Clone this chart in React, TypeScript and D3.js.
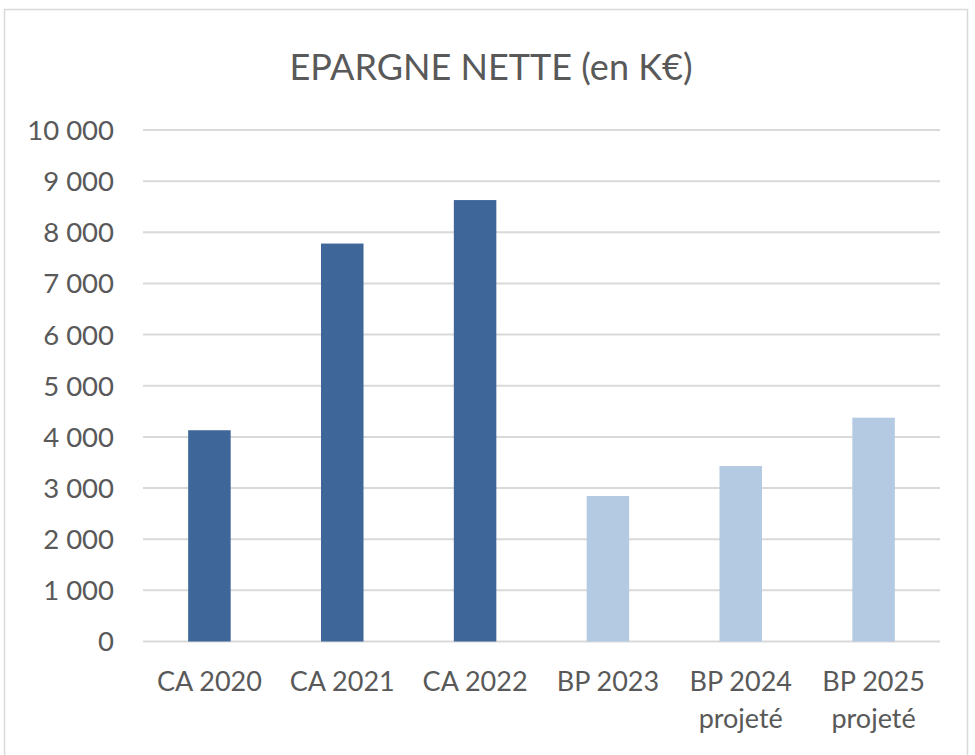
import React from "react";
import * as d3 from "d3";

const categories: string[][] = [
  ["CA 2020"],
  ["CA 2021"],
  ["CA 2022"],
  ["BP 2023"],
  ["BP 2024", "projeté"],
  ["BP 2025", "projeté"],
];
const values: number[] = [4130, 7780, 8630, 2845, 3430, 4375];
const kinds: string[] = ["CA", "CA", "CA", "BP", "BP", "BP"];
const yTicks: number[] = [0, 1000, 2000, 3000, 4000, 5000, 6000, 7000, 8000, 9000, 10000];
const title = "EPARGNE NETTE (en K€)";

const W = 975;
const H = 755;
const FONT = "Lato, 'Open Sans', sans-serif";

export default function App() {
  const x = d3
    .scaleBand<number>()
    .domain(d3.range(categories.length))
    .range([143, 940])
    .paddingInner(0.68)
    .paddingOuter(0.34);
  const y = d3.scaleLinear().domain([0, 10000]).range([641.5, 130]);
  const color = d3.scaleOrdinal<string, string>().domain(["CA", "BP"]).range(["#3e6699", "#b4c9e2"]);
  const fmt = (v: number) => d3.format(",")(v).replace(/,/g, " ");

  return (
    <svg width={W} height={H} style={{ position: "absolute", left: 0, top: 0, background: "#fff" }}>
      <rect x={4.5} y={9.5} width={963} height={760} fill="#fff" stroke="#d9d9d9" strokeWidth={1.5} />
      <text x={491} y={80} textAnchor="middle" fontFamily={FONT} fontSize={36} fill="#595959">
        {title}
      </text>
      {yTicks.map((t) => (
        <g key={t}>
          <line x1={143} x2={940} y1={y(t)} y2={y(t)} stroke="#d9d9d9" strokeWidth={2} />
          <text x={114} y={y(t)} dy="0.36em" textAnchor="end" fontFamily={FONT} fontSize={27.5} fill="#595959">
            {fmt(t)}
          </text>
        </g>
      ))}
      {values.map((v, i) => (
        <rect
          key={i}
          x={x(i)!}
          y={y(v)}
          width={x.bandwidth()}
          height={y(0) - y(v)}
          fill={color(kinds[i])}
        />
      ))}
      {categories.map((lines, i) => (
        <text
          key={i}
          x={x(i)! + x.bandwidth() / 2}
          y={691}
          textAnchor="middle"
          fontFamily={FONT}
          fontSize={27}
          fill="#595959"
        >
          {lines.map((l, j) => (
            <tspan key={j} x={x(i)! + x.bandwidth() / 2} dy={j === 0 ? 0 : 37}>
              {l}
            </tspan>
          ))}
        </text>
      ))}
    </svg>
  );
}
